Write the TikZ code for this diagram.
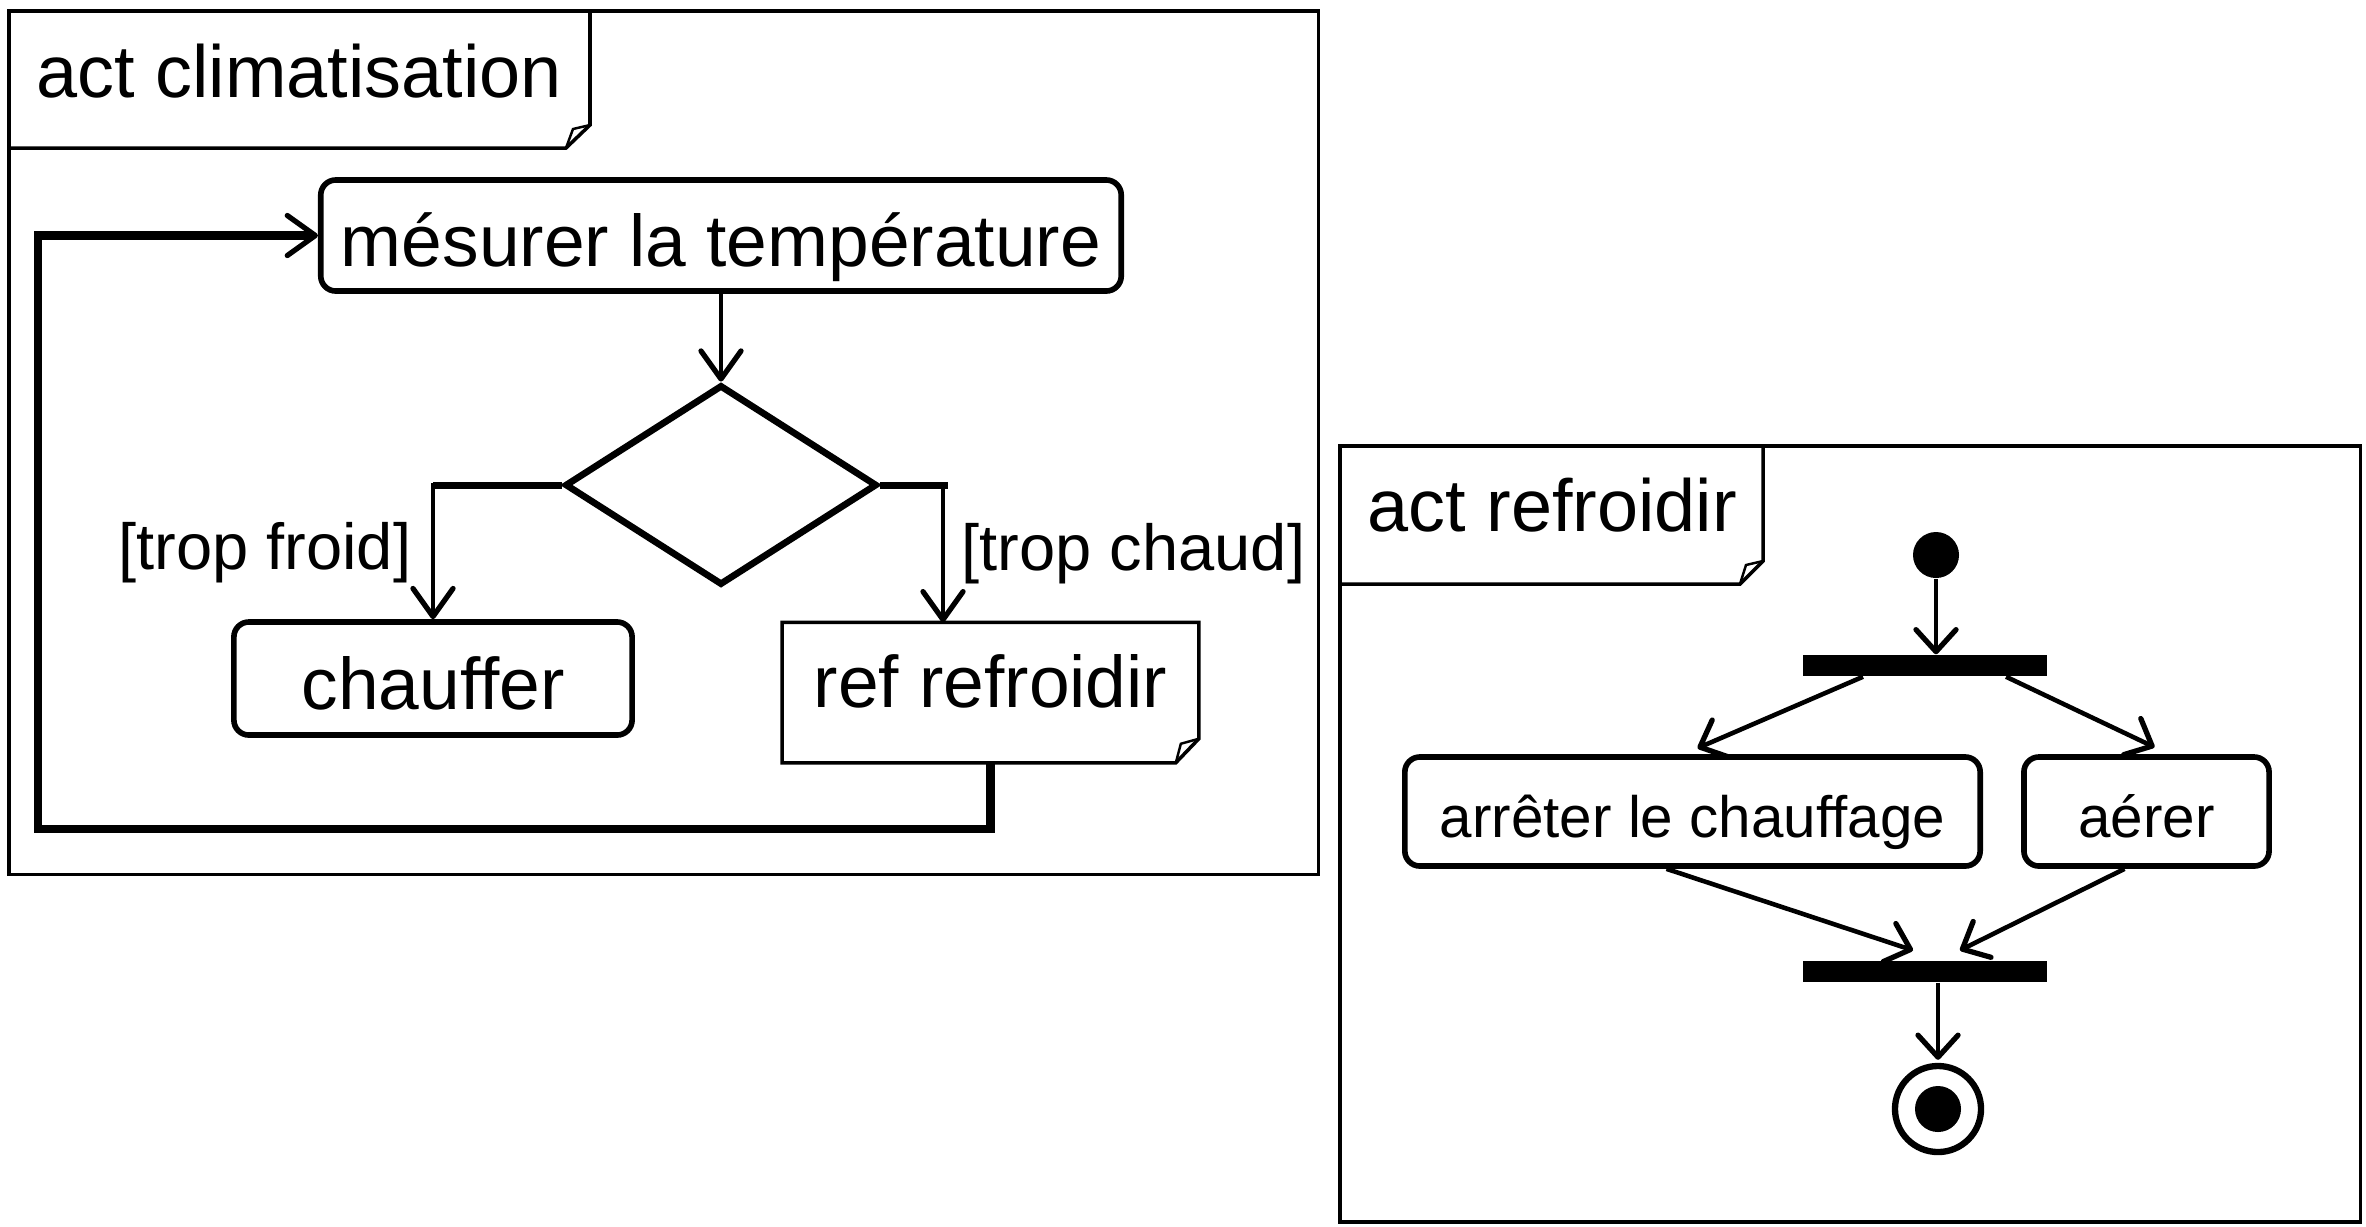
\documentclass[tikz,border=0pt]{standalone}
\usepackage{fontspec}
\setmainfont{Liberation Sans}
\usetikzlibrary{arrows.meta,shapes.geometric,calc}
\begin{document}
\begin{tikzpicture}[x=0.01cm,y=-0.01cm,
  framebox/.style={draw, line width=1pt, inner sep=0, anchor=north west},
  tabline/.style={line width=1pt, line join=miter},
  flap/.style={line width=0.7pt},
  bigtxt/.style={font=\fontsize{20.8}{24}\selectfont},
  act/.style={draw, rounded corners=0.15cm, line width=1.6pt, inner sep=0,
    text height=0.61cm, text depth=0cm},
  smallact/.style={act, font=\fontsize{16.6}{20}\selectfont, text height=0.51cm, text depth=0cm},
  guard/.style={inner sep=0, font=\fontsize{18.5}{22}\selectfont},
  conn/.style={line width=1.3pt, -{Straight Barb[length=0.28cm,width=0.40cm,line width=1.5pt,round]}},
  rconn/.style={line width=1.3pt, -{Straight Barb[length=0.22cm,width=0.40cm,line width=1.5pt,round]}},
  loopline/.style={conn, line width=2.3pt},
  bar/.style={fill, inner sep=0, minimum width=2.44cm, minimum height=0.21cm}
]
\useasboundingbox (0,0) rectangle (2366,1226);

% ---------- frame 1 ----------
\node[framebox, minimum width=13.09cm, minimum height=8.63cm] (f1) at (7,9) {};
\draw[tabline] (7,148) -- (566,148) -- (590,125) -- (590,9);
\draw[flap] (590,125) -- (573,129) -- (566,148);
\node[anchor=base west, inner sep=0, font=\fontsize{21}{25}\selectfont] (t1) at (36,97) {act climatisation};

\node[act, bigtxt, minimum width=8cm, minimum height=1.11cm] (mes) at (721,235.5) {mésurer la température};
\node[diamond, draw, line width=1.9pt, minimum width=3.12cm, minimum height=2cm, inner sep=0] (dia) at (721,485) {};
\node[act, bigtxt, minimum width=3.98cm, minimum height=1.13cm] (chauf) at (433,678.5) {chauffer};
\node[inner sep=0, bigtxt, minimum width=4.15cm, minimum height=1.39cm, text height=0.53cm, text depth=0.24cm] (ref) at (990.5,692.5) {ref refroidir};
\draw[line width=1pt] (ref.north west) -- (ref.north east) -- ($(ref.south east)+(0,-24)$)
  -- ($(ref.south east)+(-23,0)$) -- (ref.south west) -- cycle;
\draw[flap] ($(ref.south east)+(0,-24)$) -- ($(ref.south east)+(-18,-19)$) -- ($(ref.south east)+(-23,0)$);

\node[guard, anchor=east] (lf) at (412,553) {[trop froid]};
\node[guard, anchor=west] (lc) at (961,554) {[trop chaud]};

\draw[conn] (mes) -- (dia);
\draw[conn] (dia.west) -| (chauf.north);
\draw[line width=2pt] (dia.west) -- (dia.west -| chauf.north);
\draw[conn] (dia.east) -| ($(ref.north)+(-47.5,0)$);
\draw[line width=2pt] (dia.east) -- ($(dia.east)+(68,0)$);
\draw[loopline] (ref.south) |- (38,829) |- (mes.west);

% ---------- frame 2 ----------
\node[framebox, minimum width=10.2cm, minimum height=7.76cm] (f2) at (1338,444) {};
\draw[tabline] (1338,584) -- (1740,584) -- (1763,561) -- (1763,444);
\draw[flap] (1763,561) -- (1746,565) -- (1740,584);
\node[anchor=base west, inner sep=0, font=\fontsize{21}{25}\selectfont] (t2) at (1367,531) {act refroidir};

\node[circle, fill, minimum size=0.46cm, inner sep=0] (init) at (1936,555) {};
\node[bar] (fork) at (1925,665.5) {};
\node[smallact, minimum width=5.75cm, minimum height=1.09cm] (arr) at (1692.5,811.5) {arrêter le chauffage};
\node[smallact, minimum width=2.45cm, minimum height=1.09cm] (aer) at (2146.5,811.5) {aérer};
\node[bar] (join) at (1925,971.5) {};
\node[circle, draw, line width=1.8pt, minimum size=0.86cm, inner sep=0] (fin) at (1938,1109) {};
\node[circle, fill, minimum size=0.46cm, inner sep=0] (finin) at (fin.center) {};

\draw[rconn] (init) -- (init |- fork.north);
\draw[rconn] ($(fork.south)+(-62,0)$) -- ($(arr.north)+(5,-6)$);
\draw[rconn] ($(fork.south)+(81,0)$) -- ($(aer.north)+(8,-7)$);
\draw[rconn] ($(arr.south)+(-26,0)$) -- ($(join.north)+(-12,-10)$);
\draw[rconn] ($(aer.south)+(-22,0)$) -- ($(join.north)+(35,-10)$);
\draw[rconn] (fin.north |- join.south) -- ($(fin.north)+(0,-3)$);
\end{tikzpicture}
\end{document}
